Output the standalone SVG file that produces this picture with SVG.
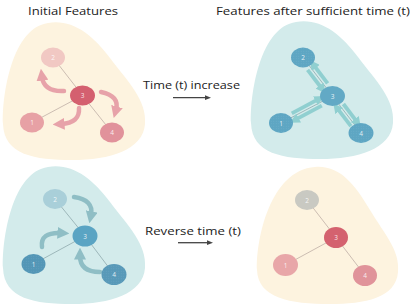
<svg xmlns="http://www.w3.org/2000/svg" width="416" height="308" viewBox="0 0 416 308">
<style>
.lbl{font-family:"Open Sans","Liberation Sans",sans-serif;font-size:11px;fill:#222}
.num{font-family:"Open Sans","Liberation Sans",sans-serif;font-size:6.5px;fill:#fff;fill-opacity:0.85;text-anchor:middle}
.edgeW{stroke:#bfaea6;stroke-width:0.8;fill:none}
.edgeB{stroke:#8fa9ad;stroke-width:0.8;fill:none}
.cpink{stroke:#e7a2a9;stroke-width:4.5;fill:none;stroke-linecap:round;marker-end:url(#hPink)}
.cteal{stroke:#8fbec5;stroke-width:4.5;fill:none;stroke-linecap:round;marker-end:url(#hTeal)}
.dbl{stroke:#90cfd0;stroke-width:3.8;fill:none;marker-end:url(#hDbl)}
.go{stroke:#444;stroke-width:1.3;fill:none;marker-end:url(#hGo)}
.tex{fill:url(#dots)}
</style>
<defs>
<marker id="hPink" markerUnits="userSpaceOnUse" markerWidth="12" markerHeight="12" viewBox="0 0 10 10" refX="3" refY="5" orient="auto"><path d="M0,0 L10,5 L0,10 z" fill="#e7a2a9"/></marker>
<marker id="hTeal" markerUnits="userSpaceOnUse" markerWidth="12" markerHeight="12" viewBox="0 0 10 10" refX="3" refY="5" orient="auto"><path d="M0,0 L10,5 L0,10 z" fill="#8fbec5"/></marker>
<marker id="hDbl" markerUnits="userSpaceOnUse" markerWidth="10" markerHeight="10" viewBox="0 0 10 10" refX="3" refY="5" orient="auto"><path d="M0,0 L10,5 L0,10 z" fill="#90cfd0"/></marker>
<marker id="hGo" markerUnits="userSpaceOnUse" markerWidth="6" markerHeight="6" viewBox="0 0 10 10" refX="5" refY="5" orient="auto"><path d="M0,1 L10,5 L0,9 z" fill="#444"/></marker>
<pattern id="dots" width="2.5" height="2.5" patternUnits="userSpaceOnUse"><circle cx="1.25" cy="1.25" r="0.4" fill="#fff" fill-opacity="0.18"/></pattern>
<path id="blob" d="M48,23 C72,19 92,34 110,58 C128,82 147,100 145,124 C143,150 110,160 72,160 C35,160 4,155 3,124 C2,95 12,28 48,23 Z"/>
</defs>
<rect width="416" height="308" fill="#fff"/>

<g id="backgrounds">
<use href="#blob" fill="#fdf3df"/>
<use href="#blob" fill="#d3ebeb" transform="translate(248,-1)"/>
<use href="#blob" fill="#d3ebeb" transform="translate(0,144)"/>
<path d="M315,167 C340,165 355,185 370,210 C385,235 400,250 398,272 C396,298 365,304 330,304 C290,304 258,298 257,270 C256,240 270,170 315,167 Z" fill="#fdf3df"/>
</g>

<g id="titles">
<text class="lbl" x="28" y="14.5" textLength="90" lengthAdjust="spacingAndGlyphs">Initial Features</text>
<text class="lbl" x="216" y="15" textLength="194" lengthAdjust="spacingAndGlyphs">Features after sufficient time (t)</text>
<text class="lbl" x="143" y="88.5" textLength="97" lengthAdjust="spacingAndGlyphs">Time (t) increase</text>
<text class="lbl" x="145" y="234.5" textLength="96" lengthAdjust="spacingAndGlyphs">Reverse time (t)</text>
</g>

<g id="connectors">
<path class="go" d="M173,97.7 L208,97.7"/>
<path class="go" d="M178,242.7 L210,242.7"/>
<path class="edgeW" d="M82.5,95.5 L53,57.5 M82.5,95.5 L32,122.5 M82.5,95.5 L112,132.5"/>
<path class="edgeB" d="M332.5,96 L303,57.5 M332.5,96 L281,123 M332.5,96 L361,133"/>
<path class="edgeB" d="M85,236 L55,199 M85,236 L33.5,264 M85,236 L114,274.5"/>
<path class="edgeW" d="M336,237.5 L307,200 M336,237.5 L285.5,265 M336,237.5 L365,275.5"/>
<path class="cpink" d="M64,91 Q44,92 42,77"/>
<path class="cpink" d="M101,92 Q120,96 116,110"/>
<path class="cpink" d="M79,108 Q80,123 61,124"/>
<path class="cteal" d="M74,197 Q94,200 91,215"/>
<path class="cteal" d="M42,247 Q40,232 61,233"/>
<path class="cteal" d="M100,272 Q80,272 80,256"/>
<path class="dbl" d="M327.6,83.4 L314,65.5"/>
<path class="dbl" d="M307.6,69.8 L321.4,88"/>
<path class="dbl" d="M321.8,105.6 L296,119.4"/>
<path class="dbl" d="M291.8,113.4 L318,99.4"/>
<path class="dbl" d="M343.4,104 L356.6,121.4"/>
<path class="dbl" d="M350.9,126.1 L337.5,108.7"/>
</g>

<g id="tl-n2"><ellipse cx="53" cy="57.5" rx="12" ry="10" fill="#f1c8c3"/><text class="num" x="53" y="60">2</text></g>
<g id="tl-n3"><ellipse cx="82.5" cy="95.5" rx="12.5" ry="10" fill="#d4606f"/><text class="num" x="82.5" y="98">3</text></g>
<g id="tl-n1"><ellipse cx="32" cy="122.5" rx="12" ry="10" fill="#e7a1a5"/><text class="num" x="32" y="125">1</text></g>
<g id="tl-n4"><ellipse cx="112" cy="132.5" rx="12" ry="10" fill="#e1929b"/><text class="num" x="112" y="135">4</text></g>

<g id="tr-n2"><ellipse cx="303" cy="57.5" rx="12" ry="10" fill="#5ea6c3"/><ellipse class="tex" cx="303" cy="57.5" rx="12" ry="10"/><text class="num" x="303" y="60">2</text></g>
<g id="tr-n3"><ellipse cx="332.5" cy="96" rx="12.5" ry="10" fill="#62a9c5"/><text class="num" x="332.5" y="98.5">3</text></g>
<g id="tr-n1"><ellipse cx="281" cy="123" rx="12" ry="10" fill="#5ea6c3"/><ellipse class="tex" cx="281" cy="123" rx="12" ry="10"/><text class="num" x="281" y="125.5">1</text></g>
<g id="tr-n4"><ellipse cx="361" cy="133" rx="12.5" ry="10" fill="#5ea6c3"/><ellipse class="tex" cx="361" cy="133" rx="12.5" ry="10"/><text class="num" x="361" y="135.5">4</text></g>

<g id="bl-n2"><ellipse cx="55" cy="199" rx="12" ry="10" fill="#a9cfd9"/><text class="num" x="55" y="201.5">2</text></g>
<g id="bl-n3"><ellipse cx="85" cy="236" rx="12.5" ry="10.5" fill="#5aa4c3"/><text class="num" x="85" y="238.5">3</text></g>
<g id="bl-n1"><ellipse cx="33.5" cy="264" rx="12" ry="10" fill="#5396b6"/><ellipse class="tex" cx="33.5" cy="264" rx="12" ry="10"/><text class="num" x="33.5" y="266.5">1</text></g>
<g id="bl-n4"><ellipse cx="114" cy="274.5" rx="12.5" ry="10.5" fill="#5899b8"/><ellipse class="tex" cx="114" cy="274.5" rx="12.5" ry="10.5"/><text class="num" x="114" y="277">4</text></g>

<g id="br-n2"><ellipse cx="307" cy="200" rx="12" ry="10" fill="#c9c9c2"/><text class="num" x="307" y="202.5">2</text></g>
<g id="br-n3"><ellipse cx="336" cy="237.5" rx="12" ry="10.5" fill="#d4626f"/><text class="num" x="336" y="240">3</text></g>
<g id="br-n1"><ellipse cx="285.5" cy="265" rx="12.5" ry="11" fill="#e8a6a8"/><text class="num" x="285.5" y="267.5">1</text></g>
<g id="br-n4"><ellipse cx="365" cy="275.5" rx="12" ry="10.5" fill="#e0939a"/><text class="num" x="365" y="278">4</text></g>
</svg>
